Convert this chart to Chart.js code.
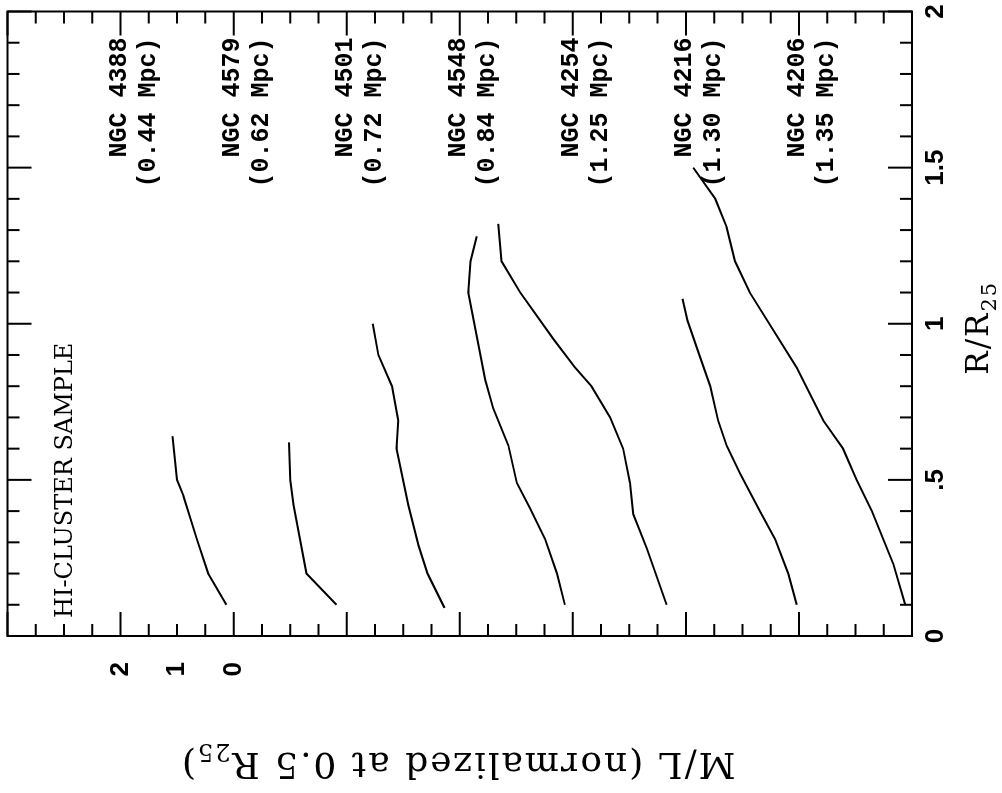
<!DOCTYPE html>
<html><head><meta charset="utf-8">
<script src="https://cdn.jsdelivr.net/npm/chart.js@4.4.0/dist/chart.umd.min.js"></script>
<style>
html,body{margin:0;padding:0;background:#fff;overflow:hidden;width:1002px;height:793px;}
#wrap{position:absolute;left:0;top:0;width:793px;height:1002px;transform-origin:0 0;transform:translate(0,793px) rotate(-90deg);}
canvas{display:block;}
</style></head><body>
<div id="wrap"><canvas id="c" width="793" height="1002"></canvas></div>
<script>
// ---- data (M/L normalized at 0.5 R25) ----
const galaxies  = ['NGC 4388','NGC 4579','NGC 4501','NGC 4548','NGC 4254','NGC 4216','NGC 4206'];
const distances = ['(0.44 Mpc)','(0.62 Mpc)','(0.72 Mpc)','(0.84 Mpc)','(1.25 Mpc)','(1.30 Mpc)','(1.35 Mpc)'];

const r4388  = [0.10,0.20,0.31,0.45,0.50,0.64];
const ml4388 = [0.13,0.45,0.65,0.89,1.00,1.08];
const r4579  = [0.10,0.20,0.42,0.50,0.62];
const ml4579 = [0.18,0.71,0.94,1.00,1.02];
const r4501  = [0.09,0.20,0.29,0.42,0.60,0.69,0.80,0.90,1.00];
const ml4501 = [0.27,0.57,0.73,0.91,1.12,1.09,1.20,1.44,1.54];
const r4548  = [0.10,0.20,0.31,0.41,0.49,0.61,0.73,0.82,1.10,1.20,1.28];
const ml4548 = [0.14,0.28,0.49,0.76,0.99,1.14,1.41,1.55,1.85,1.81,1.70];
const r4254  = [0.10,0.28,0.39,0.49,0.60,0.70,0.80,0.86,0.95,1.10,1.20,1.32];
const ml4254 = [0.34,0.69,0.93,0.99,1.11,1.34,1.67,1.96,2.34,2.93,3.26,3.32];
const r4216  = [0.10,0.20,0.31,0.40,0.52,0.61,0.69,0.80,0.91,1.01,1.08];
const ml4216 = [0.04,0.19,0.42,0.69,1.04,1.28,1.43,1.57,1.78,1.97,2.06];
const r4206  = [0.10,0.23,0.40,0.50,0.60,0.69,0.86,1.10,1.20,1.31,1.40,1.50];
const ml4206 = [0.12,0.33,0.71,0.98,1.22,1.57,2.04,2.87,3.13,3.28,3.48,3.87];

const radii  = [r4388, r4579, r4501, r4548, r4254, r4216, r4206];
const mls    = [ml4388, ml4579, ml4501, ml4548, ml4254, ml4216, ml4206];

const R_TICK_LABELS  = ['0','.5','1','1.5','2'];
const ML_TICK_LABELS = ['0','1','2'];
const SAMPLE_LABEL   = 'HI-CLUSTER SAMPLE';
const OFFSET_STEP    = 2;   // each galaxy shifted down by 2 units of M/L

// ---- build datasets ----
const datasets = galaxies.map((g, i) => ({
  label: g,
  data: radii[i].map((r, k) => ({x: r, y: mls[i][k] - OFFSET_STEP * i})),
  showLine: true, borderColor: '#000', borderWidth: 2,
  pointRadius: 0, tension: 0, fill: false
}));

function drawParts(ctx, parts, x, y, spacing) {
  ctx.save();
  if ('letterSpacing' in ctx) ctx.letterSpacing = spacing + 'px';
  let total = 0;
  parts.forEach(p => { ctx.font = p.f; p.w = ctx.measureText(p.t).width; total += p.w; });
  let cx = x - total / 2;
  ctx.textAlign = 'left'; ctx.textBaseline = 'alphabetic'; ctx.fillStyle = '#000';
  parts.forEach(p => { ctx.font = p.f; ctx.fillText(p.t, cx, y + p.dy); cx += p.w; });
  ctx.restore();
}

const framePlugin = {
  id: 'frame',
  afterDraw(chart) {
    const {ctx, chartArea: a, scales: {x, y}} = chart;
    ctx.save();
    ctx.strokeStyle = '#000'; ctx.lineWidth = 2; ctx.lineCap = 'butt';
    ctx.strokeRect(a.left, a.top, a.right - a.left, a.bottom - a.top);
    ctx.beginPath();
    for (let k = 0; k <= 20; k++) {
      const p = x.getPixelForValue(k * 0.1);
      const len = (k % 5 === 0) ? 24 : 12;
      ctx.moveTo(p, a.bottom); ctx.lineTo(p, a.bottom - len);
      ctx.moveTo(p, a.top); ctx.lineTo(p, a.top + len);
    }
    for (let k = 0; k <= 32; k++) {
      const p = y.getPixelForValue(y.min + k * 0.5);
      const len = (k % 4 === 0) ? 24 : 12;
      ctx.moveTo(a.left, p); ctx.lineTo(a.left + len, p);
      ctx.moveTo(a.right, p); ctx.lineTo(a.right - len, p);
    }
    ctx.stroke();

    // galaxy labels
    ctx.fillStyle = '#000';
    ctx.font = 'bold 25px "Liberation Mono", monospace';
    ctx.textAlign = 'right'; ctx.textBaseline = 'alphabetic';
    galaxies.forEach((g, i) => {
      const yc = y.getPixelForValue(2 - OFFSET_STEP * i);
      ctx.fillText(g, a.right - 26, yc + 5);
      ctx.fillText(distances[i], a.right - 26, yc + 34);
    });

    // sample label
    ctx.font = '24px "DejaVu Serif", serif';
    ctx.textAlign = 'left';
    ctx.fillText(SAMPLE_LABEL, a.left + 18, 72);

    // x title R/R25
    drawParts(ctx, [
      {t: 'R/R', f: '31px "DejaVu Serif", serif', dy: 0},
      {t: '25', f: '21px "DejaVu Serif", serif', dy: 8}
    ], (a.left + a.right) / 2 - 4, 988, 2);

    // y title
    ctx.save();
    ctx.translate(39.5, (a.top + a.bottom) / 2 - 2);
    ctx.rotate(-Math.PI / 2);
    drawParts(ctx, [
      {t: 'M/L (normalized at 0.5 R', f: '36px "DejaVu Serif", serif', dy: 0},
      {t: '25', f: '24px "DejaVu Serif", serif', dy: 9},
      {t: ')', f: '36px "DejaVu Serif", serif', dy: 0}
    ], 0, 0, 2);
    ctx.restore();
    ctx.restore();
  }
};

new Chart(document.getElementById('c'), {
  type: 'scatter',
  data: {datasets},
  options: {
    responsive: false, animation: false, devicePixelRatio: 1,
    layout: {padding: {left: 0, right: 11.5, top: 7.5, bottom: 0}},
    plugins: {legend: {display: false}, tooltip: {enabled: false}},
    scales: {
      x: {
        type: 'linear', min: 0, max: 2, position: 'bottom',
        grid: {display: false, drawTicks: false}, border: {display: false},
        ticks: {stepSize: 0.5, autoSkip: false, maxRotation: 0, padding: 8, color: '#000',
          font: {family: 'Liberation Sans', weight: 'bold', size: 26},
          callback: v => R_TICK_LABELS[Math.round(v * 2)]},
        afterFit: s => { s.height = 90; s.paddingLeft = 0; s.paddingRight = 0; }
      },
      y: {
        type: 'linear', min: -12, max: 4, position: 'left',
        grid: {display: false, drawTicks: false}, border: {display: false},
        ticks: {stepSize: 1, autoSkip: false, padding: 26, color: '#000',
          font: {family: 'Liberation Sans', weight: 'bold', size: 26},
          callback: v => (v >= 0 && v <= 2) ? ML_TICK_LABELS[v] : ''},
        afterFit: s => { s.width = 157; s.paddingTop = 0; s.paddingBottom = 0; }
      }
    }
  },
  plugins: [framePlugin]
});
</script>
</body></html>
